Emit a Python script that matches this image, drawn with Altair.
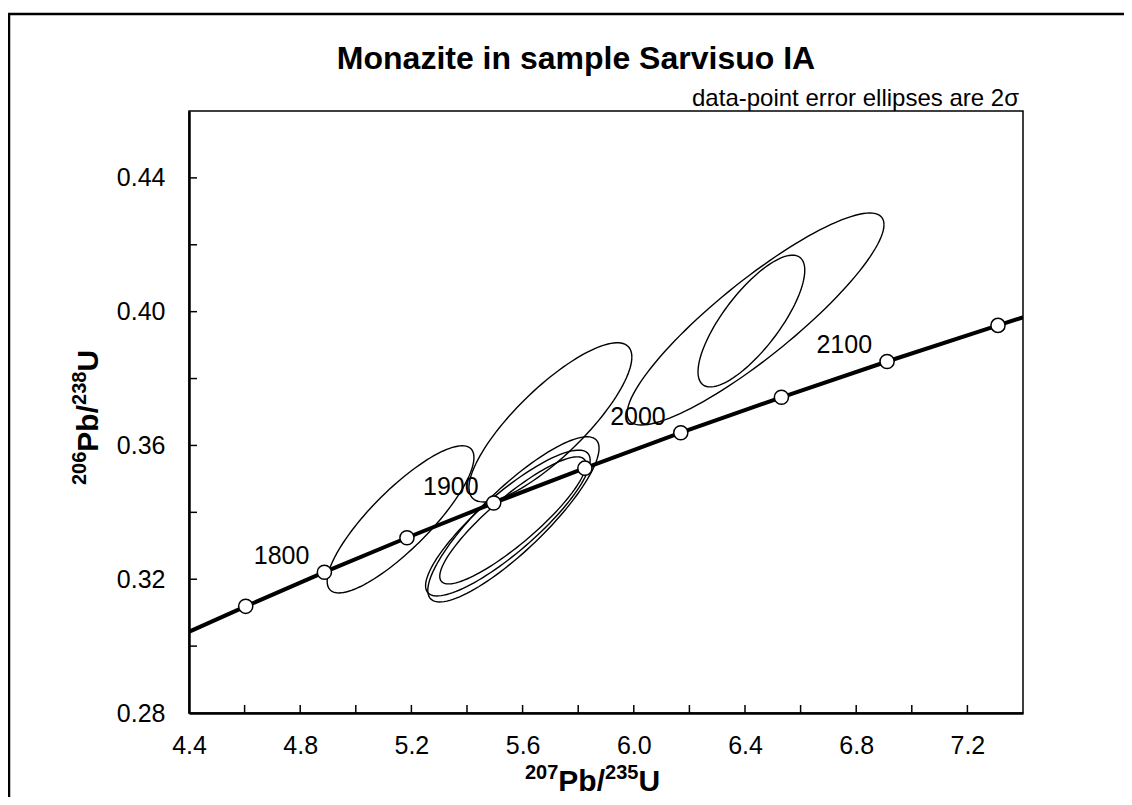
import math
import altair as alt
import pandas as pd

TITLE = "Monazite in sample Sarvisuo IA"
SUBTITLE = "data-point error ellipses are 2σ"

# Concordia age markers (Ma) and their ratios
ages = [1750, 1800, 1850, 1900, 1950, 2000, 2050, 2100, 2150]
marker_x = [4.604, 4.887, 5.184, 5.496, 5.824, 6.169, 6.531, 6.911, 7.310]
marker_y = [0.3119, 0.3221, 0.3324, 0.3428, 0.3532, 0.3638, 0.3744, 0.3851, 0.3959]
label_ages = [1800, 1900, 2000, 2100]

# Concordia curve points (edge of the plot + markers)
curve_x = [4.400, 4.604, 4.887, 5.184, 5.496, 5.824, 6.169, 6.531, 6.911, 7.310, 7.400]
curve_y = [0.3043, 0.3119, 0.3221, 0.3324, 0.3428, 0.3532, 0.3638, 0.3744, 0.3851, 0.3959, 0.3983]

# Error ellipses: centre, 2-sigma half-widths and error correlation
ell_cx = [5.161, 5.700, 5.567, 5.547, 5.565, 6.438, 6.423]
ell_cy = [0.3379, 0.3669, 0.3379, 0.3368, 0.3376, 0.3978, 0.3972]
ell_sx = [0.264, 0.293, 0.308, 0.296, 0.263, 0.462, 0.192]
ell_sy = [0.0220, 0.0238, 0.0247, 0.0218, 0.0190, 0.0317, 0.0197]
ell_rho = [0.84, 0.82, 0.86, 0.86, 0.88, 0.89, 0.77]

x_major = [4.4, 4.8, 5.2, 5.6, 6.0, 6.4, 6.8, 7.2]
y_major = [0.28, 0.32, 0.36, 0.40, 0.44]
x_minor = [4.6, 4.8, 5.0, 5.2, 5.4, 5.6, 5.8, 6.0, 6.2, 6.4, 6.6, 6.8, 7.0, 7.2]
y_minor = [0.30, 0.32, 0.34, 0.36, 0.38, 0.40, 0.42, 0.44]

W, H = 834, 602
FONT = "Liberation Sans"

# ---- tables ----
rows = []
N = 120
for i in range(len(ell_cx)):
    r = ell_rho[i]
    for k in range(N + 1):
        t = 2 * math.pi * k / N
        rows.append({
            "e": i, "k": k,
            "x": ell_cx[i] + ell_sx[i] * math.cos(t),
            "y": ell_cy[i] + ell_sy[i] * (r * math.cos(t) + math.sqrt(1 - r * r) * math.sin(t)),
        })
ell_df = pd.DataFrame(rows)
curve_df = pd.DataFrame({"x": curve_x, "y": curve_y, "i": list(range(len(curve_x)))})
mark_df = pd.DataFrame({"x": marker_x, "y": marker_y, "age": ages})
lab_df = mark_df[mark_df["age"].isin(label_ages)]
xt_df = pd.DataFrame({"x": x_minor})
yt_df = pd.DataFrame({"y": y_minor})
one = pd.DataFrame({"a": [0]})

xs = alt.Scale(domain=[4.4, 7.4], nice=False, zero=False)
ys = alt.Scale(domain=[0.28, 0.46], nice=False, zero=False)
xaxis = alt.Axis(values=x_major, format=".1f", ticks=False, grid=False, title=None,
                 labelFontSize=25, labelPadding=20, labelFont=FONT, labelColor="black",
                 domainColor="black", domainWidth=2.5, labelFlush=False)
yaxis = alt.Axis(values=y_major, format=".2f", ticks=False, grid=False, title=None,
                 labelFontSize=25, labelPadding=24, labelFont=FONT, labelColor="black",
                 domainColor="black", domainWidth=2.5, labelFlush=False)
X = alt.X("x:Q", scale=xs, axis=xaxis)
Y = alt.Y("y:Q", scale=ys, axis=yaxis)

ellipses = alt.Chart(ell_df).mark_line(color="black", strokeWidth=1.4, clip=True).encode(
    x=X, y=Y, detail="e:N", order="k:Q")
curve = alt.Chart(curve_df).mark_line(color="black", strokeWidth=4, interpolate="monotone", clip=True).encode(
    x=X, y=Y, order="i:Q")
markers = alt.Chart(mark_df).mark_point(shape="circle", filled=True, fill="white", stroke="black",
                                        strokeWidth=1.5, size=200, opacity=1).encode(x=X, y=Y)
labels = alt.Chart(lab_df).mark_text(align="right", baseline="middle", dx=-15, dy=-16,
                                     fontSize=25, font=FONT, color="black").encode(
    x=X, y=Y, text="age:N")
xticks = alt.Chart(xt_df).mark_rule(color="black", strokeWidth=1.5).encode(
    x=X, y=alt.value(H), y2=alt.value(H - 8))
yticks = alt.Chart(yt_df).mark_rule(color="black", strokeWidth=1.5).encode(
    y=Y, x=alt.value(0), x2=alt.value(8))

border = alt.Chart(one).mark_rect(fill=None, stroke="black", strokeWidth=2.5).encode(
    x=alt.value(-180), x2=alt.value(960), y=alt.value(-97), y2=alt.value(730))


def txt(s, x, y, size, bold=False, align="left", baseline="alphabetic", angle=0):
    kw = dict(text=s, fontSize=size, font=FONT, color="black", align=align, baseline=baseline,
              fontWeight="bold" if bold else "normal")
    if angle:
        kw["angle"] = angle
    return alt.Chart(one).mark_text(**kw).encode(x=alt.value(x), y=alt.value(y))


title = txt(TITLE, 387, -52, 32, bold=True, align="center", baseline="middle")
subtitle = txt(SUBTITLE, 830, -12, 24, align="right", baseline="middle")

L, S = 30, 20
wsup = 3 * 0.556 * S
wpb = 1.556 * L
x0, yb = 336, 680
xt = [
    txt("207", x0, yb - 12, S, bold=True),
    txt("Pb/", x0 + wsup, yb, L, bold=True),
    txt("235", x0 + wsup + wpb, yb - 12, S, bold=True),
    txt("U", x0 + 2 * wsup + wpb, yb, L, bold=True),
]
y0, xb = 374, -91
yt = [
    txt("206", xb - 12, y0, S, bold=True, angle=270),
    txt("Pb/", xb, y0 - wsup, L, bold=True, angle=270),
    txt("238", xb - 12, y0 - wsup - wpb, S, bold=True, angle=270),
    txt("U", xb, y0 - 2 * wsup - wpb, L, bold=True, angle=270),
]

chart = alt.layer(
    ellipses, curve, markers, labels, xticks, yticks, border, title, subtitle, *xt, *yt
).properties(
    width=W, height=H,
    padding={"left": 181, "top": 103, "right": 101, "bottom": 84},
    autosize=alt.AutoSizeParams(type="none"),
    background="white",
).configure_view(stroke="black", strokeWidth=1.5)

chart.save("out.html", embed_options={"renderer": "svg", "actions": False})
